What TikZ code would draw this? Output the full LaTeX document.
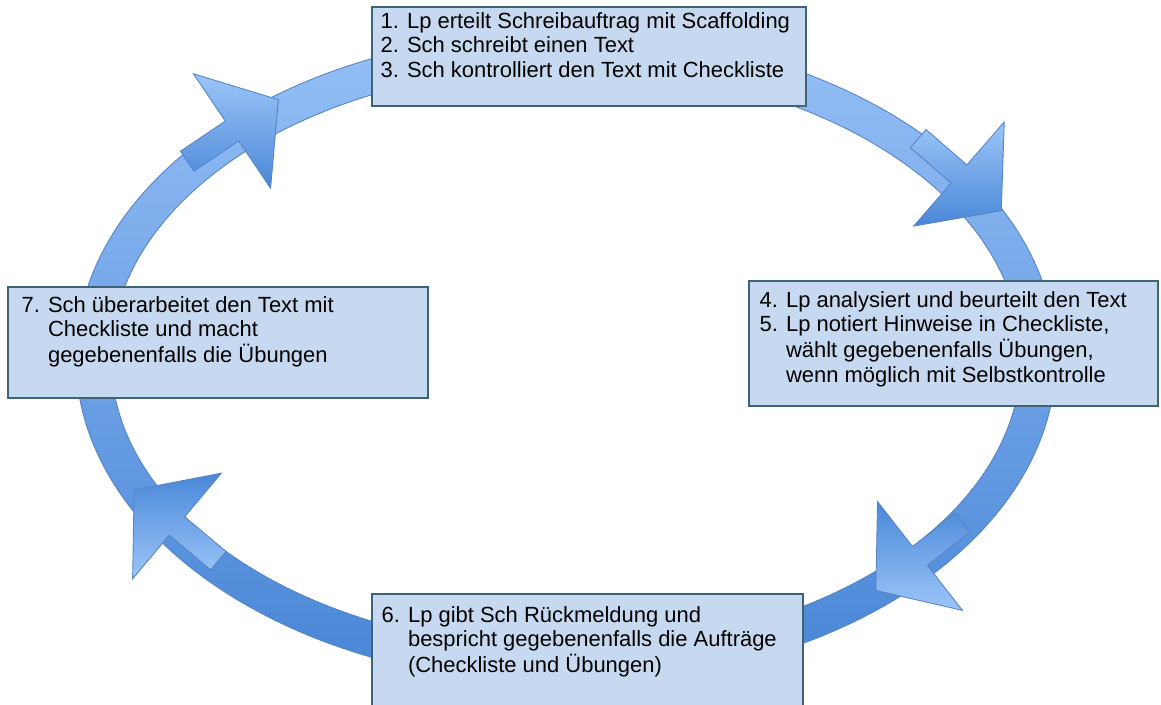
\documentclass[tikz,border=0pt]{standalone}
\usepackage{fontspec}
\setmainfont{Liberation Sans}
\usetikzlibrary{positioning,calc}
\definecolor{ringtop}{RGB}{150,192,246}
\definecolor{ringbot}{RGB}{72,133,214}
\definecolor{ringedge}{RGB}{86,132,198}
\definecolor{headlight}{RGB}{156,198,248}
\definecolor{headdark}{RGB}{74,135,216}
\definecolor{boxfill}{RGB}{198,217,240}
\definecolor{boxedge}{RGB}{62,98,118}
\newcommand{\stepno}[1]{\makebox[15pt][l]{#1}}

\begin{document}
\begin{tikzpicture}[x=0.02cm,y=-0.02cm,
  stepbox/.style={draw=boxedge,fill=boxfill,line width=0.8pt,inner sep=0pt},
  steptext/.style={anchor=north west,inner sep=0pt,font=\fontsize{12.5}{14}\selectfont},
  blockarrow/.style={draw=ringedge,line width=0.5pt}]
  \useasboundingbox (0,0) rectangle (1161,705);
  % ring behind everything
  \path[draw=ringedge,line width=0.5pt,top color=ringtop,bottom color=ringbot,even odd rule]
    (566,358) ellipse [x radius=490,y radius=326]
    (566,358) ellipse [x radius=455,y radius=291];
  % arrows on the ring (base middle of head, angle, shading colours)
  \foreach \px/\py/\ang/\ctop/\cbot in {232/131/34/headlight/headdark,
      959/174/-41/headlight/headdark, 920/556/218/headdark/headlight,
      177/526/140/headdark/headlight} {
    \begin{scope}[shift={(\px,\py)},rotate=\ang]
      \path[blockarrow,top color=\ctop,bottom color=\cbot] (-54,-12) -- (0,-12)
        -- (0,-69) -- (56,0) -- (0,69) -- (0,12) -- (-54,12) -- cycle;
    \end{scope}
  }
  % step boxes
  \node[stepbox,minimum width=8.68cm,minimum height=1.98cm] (auftrag) at (589,56.5) {};
  \node[stepbox,minimum width=8.18cm,minimum height=2.5cm] (analyse) at (953.5,343.5) {};
  \node[stepbox,minimum width=8.62cm,minimum height=2.52cm] (rueckmeldung) at (587.5,657) {};
  \node[stepbox,minimum width=8.4cm,minimum height=2.22cm] (ueberarbeitung) at (218,342.5) {};
  % texts
  \node[steptext] (auftragtxt) at ($(auftrag.north west)+(9,4.5)$) {%
    \begin{tabular}{@{}l@{}}
      \stepno{1.}Lp erteilt Schreibauftrag mit Scaffolding\\
      \stepno{2.}Sch schreibt einen Text\\
      \stepno{3.}Sch kontrolliert den Text mit Checkliste
    \end{tabular}};
  \node[steptext] (analysetxt) at ($(analyse.north west)+(11,9.5)$) {%
    \begin{tabular}{@{}l@{}}
      \stepno{4.}Lp analysiert und beurteilt den Text\\
      \stepno{5.}Lp notiert Hinweise in Checkliste,\\
      \stepno{}wählt gegebenenfalls Übungen,\\
      \stepno{}wenn möglich mit Selbstkontrolle
    \end{tabular}};
  \node[steptext] (rueckmeldungtxt) at ($(rueckmeldung.north west)+(10,11.5)$) {%
    \begin{tabular}{@{}l@{}}
      \stepno{6.}Lp gibt Sch Rückmeldung und\\
      \stepno{}bespricht gegebenenfalls die Aufträge\\
      \stepno{}(Checkliste und Übungen)
    \end{tabular}};
  \node[steptext] (ueberarbeitungtxt) at ($(ueberarbeitung.north west)+(14,8.5)$) {%
    \begin{tabular}{@{}l@{}}
      \stepno{7.}Sch überarbeitet den Text mit\\
      \stepno{}Checkliste und macht\\
      \stepno{}gegebenenfalls die Übungen
    \end{tabular}};
\end{tikzpicture}
\end{document}
